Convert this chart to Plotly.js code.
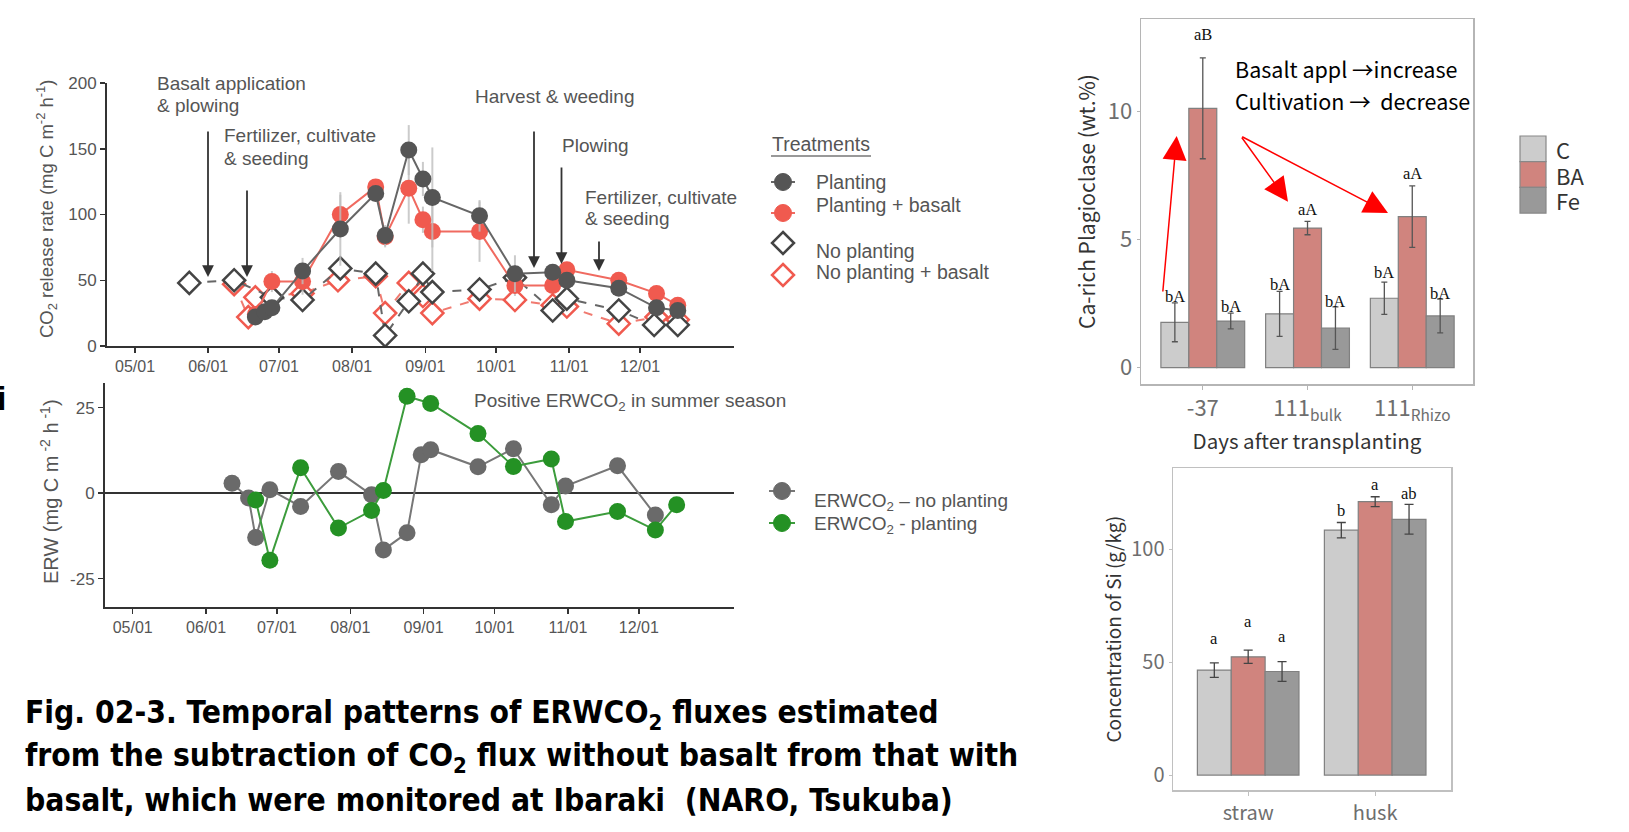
<!DOCTYPE html>
<html><head><meta charset="utf-8">
<script src="https://cdn.plot.ly/plotly-3.0.1.min.js"></script>
<style>html,body{margin:0;padding:0;background:#fff;overflow:hidden}#chart{width:1629px;height:832px;}</style>
</head><body><div id="chart"></div>
<script>
// ---------------- data ----------------
const monthTicks = ['2021-05-01','2021-06-01','2021-07-01','2021-08-01','2021-09-01','2021-10-01','2021-11-01','2021-12-01'];
const monthLabels = ['05/01','06/01','07/01','08/01','09/01','10/01','11/01','12/01'];

const plantDates = ['2021-06-21','2021-06-25','2021-06-28','2021-07-11','2021-07-27','2021-08-11','2021-08-15','2021-08-25','2021-08-31','2021-09-04','2021-09-24','2021-10-09','2021-10-25','2021-10-31','2021-11-22','2021-12-08','2021-12-17'];
const plantVals = [22,26,29,57,89,116,84,149,127,113,99,55,56,50,44,29,27];
const plantErr  = [3,3,5,10,28,5,8,19,13,38,12,14,5,5,5,5,5];

const basaltDates = ['2021-06-21','2021-06-28','2021-07-11','2021-07-27','2021-08-11','2021-08-15','2021-08-25','2021-08-31','2021-09-04','2021-09-24','2021-10-09','2021-10-25','2021-10-31','2021-11-22','2021-12-08','2021-12-17'];
const basaltVals = [24,49,49,100,121,83,120,96,87,87,46,46,58,50,40,31];
const basaltErr  = [3,8,10,15,6,8,27,10,30,23,8,5,5,5,5,5];

const noPlantDates = ['2021-05-24','2021-06-12','2021-06-28','2021-07-11','2021-07-27','2021-08-11','2021-08-15','2021-08-25','2021-08-31','2021-09-04','2021-09-24','2021-10-09','2021-10-25','2021-10-31','2021-11-22','2021-12-07','2021-12-17'];
const noPlantVals = [48,50,37,35,59,55,8,34,55,41,43,52,27,36,27,16,16];

const noPlantBasaltDates = ['2021-06-12','2021-06-18','2021-06-21','2021-07-11','2021-07-26','2021-08-11','2021-08-15','2021-08-25','2021-08-31','2021-09-04','2021-09-24','2021-10-09','2021-10-25','2021-10-31','2021-11-22','2021-12-08','2021-12-17'];
const noPlantBasaltVals = [47,22,37,40,50,53,25,48,38,25,36,35,31,30,17,22,20];

const erwNoPlantDates = ['2021-06-12','2021-06-19','2021-06-22','2021-06-28','2021-07-11','2021-07-27','2021-08-10','2021-08-15','2021-08-25','2021-08-31','2021-09-04','2021-09-24','2021-10-09','2021-10-25','2021-10-31','2021-11-22','2021-12-08'];
const erwNoPlantVals = [2.9,-1.4,-13,1,-3.9,6.3,-0.5,-16.6,-11.6,11.2,12.7,7.7,13,-3.4,2.1,8,-6.4];
const erwPlantDates = ['2021-06-22','2021-06-28','2021-07-11','2021-07-27','2021-08-10','2021-08-15','2021-08-25','2021-09-04','2021-09-24','2021-10-09','2021-10-25','2021-10-31','2021-11-22','2021-12-08','2021-12-17'];
const erwPlantVals = [-2,-19.6,7.4,-10.2,-5.1,0.8,28.3,26.2,17.4,7.8,10,-8.3,-5.4,-10.8,-3.4];

const dayCats = ['-37','111bulk','111Rhizo'];
const dayLabels = ['-37','111<sub>bulk</sub>','111<sub>Rhizo</sub>'];
const plagC = [1.77,2.10,2.71];   const plagCErr = [0.76,0.88,0.63];
const plagBA = [10.13,5.45,5.90]; const plagBAErr = [1.97,0.26,1.20];
const plagFe = [1.82,1.54,2.02];  const plagFeErr = [0.31,0.83,0.66];
const plagCLet = ['bA','bA','bA']; const plagBALet = ['aB','aA','aA']; const plagFeLet = ['bA','bA','bA'];
const plagCLetY = [2.76,3.23,3.70]; const plagBALetY = [13.0,6.16,7.6]; const plagFeLetY = [2.37,2.57,2.91];

const siCats = ['straw','husk'];
const siC = [46.5,108.5];  const siCErr = [3.25,3.4];
const siBA = [52.4,121.1]; const siBAErr = [2.95,2.2];
const siFe = [45.9,113.3]; const siFeErr = [4.4,6.6];
const siCLet = ['a','b']; const siBALet = ['a','a']; const siFeLet = ['a','ab'];
const siCLetY = [60.6,117]; const siBALetY = [67.9,128.8]; const siFeLetY = [61.3,124.8];

const treatNames = ['C','BA','Fe'];
// ---------------- styles ----------------
const W = 1629, H = 832;
const px = x => x / W, py = y => 1 - y / H;
const sansL = 'Liberation Sans, Arial, sans-serif';
const sansR = 'Noto Sans CJK JP, Noto Sans, sans-serif';
const gTxt = '#555';
const colGray = '#555555', colRed = '#f05a4f', colGreen = '#249124';
const barCols = ['#cccccc','#d0847e','#999999'];

const traces = [];
// top-left
traces.push({x: noPlantBasaltDates, y: noPlantBasaltVals, xaxis:'x', yaxis:'y', mode:'lines+markers', type:'scatter',
  line:{color:'#f07a70', width:2, dash:'dash'}, marker:{symbol:'diamond', size:17, color:'#fff', line:{color:colRed, width:2.5}}});
traces.push({x: noPlantDates, y: noPlantVals, xaxis:'x', yaxis:'y', mode:'lines+markers', type:'scatter',
  line:{color:'#666', width:2, dash:'dash'}, marker:{symbol:'diamond', size:17, color:'#fff', line:{color:'#444', width:2.5}}});
traces.push({x: basaltDates, y: basaltVals, xaxis:'x', yaxis:'y', mode:'lines+markers', type:'scatter',
  error_y:{type:'data', array: basaltErr, color:'rgba(190,190,190,0.8)', thickness:2, width:0},
  line:{color:'#f06a60', width:2}, marker:{symbol:'circle', size:17, color:colRed}});
traces.push({x: plantDates, y: plantVals, xaxis:'x', yaxis:'y', mode:'lines+markers', type:'scatter',
  error_y:{type:'data', array: plantErr, color:'rgba(190,190,190,0.8)', thickness:2, width:0},
  line:{color:'#666', width:2}, marker:{symbol:'circle', size:17, color:colGray}});
// bottom-left
traces.push({x: erwNoPlantDates, y: erwNoPlantVals, xaxis:'x2', yaxis:'y2', mode:'lines+markers', type:'scatter',
  line:{color:'#777', width:2}, marker:{size:17, color:'#6a6a6a'}});
traces.push({x: erwPlantDates, y: erwPlantVals, xaxis:'x2', yaxis:'y2', mode:'lines+markers', type:'scatter',
  line:{color:'#3c9c3c', width:2}, marker:{size:17, color:colGreen}});
// bars
const plagVals = [plagC, plagBA, plagFe], plagErrs = [plagCErr, plagBAErr, plagFeErr];
const siVals = [siC, siBA, siFe], siErrs = [siCErr, siBAErr, siFeErr];
for (let i = 0; i < 3; i++) {
  traces.push({type:'bar', x: dayCats, y: plagVals[i], name: treatNames[i], xaxis:'x3', yaxis:'y3',
    marker:{color: barCols[i], line:{color:'#808080', width:1.2}},
    error_y:{type:'data', array: plagErrs[i], color:'#555', thickness:1.3, width:3}});
}
for (let i = 0; i < 3; i++) {
  traces.push({type:'bar', x: siCats, y: siVals[i], name: treatNames[i], xaxis:'x4', yaxis:'y4',
    marker:{color: barCols[i], line:{color:'#808080', width:1.2}},
    error_y:{type:'data', array: siErrs[i], color:'#444', thickness:1.3, width:4.5}});
}

// ---------------- axes ----------------
const x3dom = [px(1141), px(1473)], x3rng = [-0.59, 2.58];
const x4dom = [px(1173), px(1451)], x4rng = [-0.592, 1.597];
const leftAxisCommon = {showline:true, linecolor:'#333', linewidth:2, ticks:'outside', ticklen:5, tickcolor:'#333', tickwidth:1.5,
  showgrid:false, zeroline:false, tickfont:{family:sansL, size:16, color:gTxt}};
const layout = {
  width: W, height: H, margin:{l:0,r:0,t:0,b:0}, paper_bgcolor:'#fff', plot_bgcolor:'rgba(0,0,0,0)',
  showlegend:false, barmode:'group', bargap:0.2, bargroupgap:0,
  xaxis: Object.assign({}, leftAxisCommon, {domain:[px(107), px(734)], anchor:'y', type:'date',
    range:['2021-04-19 03:00','2022-01-09 20:00'], tickvals: monthTicks, ticktext: monthLabels}),
  yaxis: Object.assign({}, leftAxisCommon, {domain:[py(346), py(83)], anchor:'x', range:[0,200], tickvals:[0,50,100,150,200],
    tickfont:{family:sansL, size:17, color:gTxt}}),
  xaxis2: Object.assign({}, leftAxisCommon, {domain:[px(105), px(734)], anchor:'y2', type:'date',
    range:['2021-04-19 07:00','2022-01-10 06:00'], tickvals: monthTicks, ticktext: monthLabels}),
  yaxis2: Object.assign({}, leftAxisCommon, {domain:[py(606.7), py(383)], anchor:'x2', range:[-33.2,32.2], tickvals:[-25,0,25],
    ticktext:['-25','0','25'],
    zeroline:true, zerolinecolor:'#333', zerolinewidth:2, tickfont:{family:sansL, size:17, color:gTxt}}),
  xaxis3: {domain:x3dom, anchor:'y3', type:'category', range:x3rng, tickvals: dayCats, ticktext: dayLabels,
    showline:true, mirror:true, linecolor:'#b5b5b5', linewidth:1.5, ticks:'outside', ticklen:4, tickcolor:'#b5b5b5',
    showgrid:false, tickfont:{family:sansR, size:22, color:'#6e6e6e'},
    title:{text:'Days after transplanting', font:{family:sansR, size:20.5, color:'#333'}, standoff:2}},
  yaxis3: {domain:[py(384), py(19)], anchor:'x3', range:[-0.64,13.62], tickvals:[0,5,10],
    showline:true, mirror:true, linecolor:'#b5b5b5', linewidth:1.5, ticks:'outside', ticklen:3, tickcolor:'#b5b5b5',
    showgrid:false, zeroline:false, tickfont:{family:sansR, size:22, color:'#6e6e6e'},
    title:{text:'Ca-rich Plagioclase (wt.%)', font:{family:sansR, size:21, color:'#333'}, standoff:6}},
  xaxis4: {domain:x4dom, anchor:'y4', type:'category', range:x4rng,
    showline:true, mirror:true, linecolor:'#c0c0c0', linewidth:1.5, ticks:'outside', ticklen:4, tickcolor:'#c0c0c0',
    showgrid:false, tickfont:{family:sansR, size:20, color:'#6e6e6e'}},
  yaxis4: {domain:[py(790), py(468.3)], anchor:'x4', range:[-6.6,135.9], tickvals:[0,50,100],
    showline:true, mirror:true, linecolor:'#c0c0c0', linewidth:1.5, ticks:'outside', ticklen:3, tickcolor:'#c0c0c0',
    showgrid:false, zeroline:false, tickfont:{family:sansR, size:20, color:'#6e6e6e'},
    title:{text:'Concentration of Si (g/kg)', font:{family:sansR, size:19, color:'#333'}, standoff:4}},
  annotations: [], shapes: []
};
const A = layout.annotations, S = layout.shapes;
function txt(t, x, y, opt) {
  A.push(Object.assign({text:t, x:px(x), y:py(y), xref:'paper', yref:'paper', showarrow:false, xanchor:'left', yanchor:'middle',
    borderpad:0, font:{family:sansL, size:19, color:gTxt}}, opt || {}));
}
function arrow(x, yTip, yTail, col, w) {
  A.push({text:'', x:px(x), y:py(yTip), xref:'paper', yref:'paper', showarrow:true, ax:0, ay:(yTail - yTip),
    arrowhead:2, arrowsize:1.3, arrowwidth:w || 1.8, arrowcolor:col || '#333', standoff:0});
}
// top-left annotations
txt('Basalt application', 156, 83); txt('&amp; plowing', 156, 105);
txt('Fertilizer, cultivate', 223, 136); txt('&amp; seeding', 223, 158);
txt('Harvest &amp; weeding', 474, 96);
txt('Plowing', 561, 145);
txt('Fertilizer, cultivate', 584, 197); txt('&amp; seeding', 584, 218);
arrow(208, 277, 130); arrow(247, 277, 189); arrow(534, 268, 130); arrow(561.5, 264, 166); arrow(599, 271, 240);
// legend top-left
txt('Treatments', 771, 144, {font:{family:sansL, size:19.5, color:gTxt}});
S.push({type:'line', xref:'paper', yref:'paper', x0:px(771), x1:px(871), y0:py(156), y1:py(156), line:{color:'#777', width:1.5}});
txt('Planting', 815, 182, {font:{family:sansL, size:19.5, color:gTxt}});
txt('Planting + basalt', 815, 205, {font:{family:sansL, size:19.5, color:gTxt}});
txt('No planting', 815, 251, {font:{family:sansL, size:19.5, color:gTxt}});
txt('No planting + basalt', 815, 272, {font:{family:sansL, size:19.5, color:gTxt}});
function circ(cx, cy, r, fill, lineCol) {
  S.push({type:'circle', xref:'paper', yref:'paper', x0:px(cx - r), x1:px(cx + r), y0:py(cy + r), y1:py(cy - r),
    fillcolor:fill, line:{color:lineCol || fill, width:1}});
}
function hline(x0, x1, y, col, w, dash) {
  S.push({type:'line', xref:'paper', yref:'paper', x0:px(x0), x1:px(x1), y0:py(y), y1:py(y), line:{color:col, width:w || 2, dash: dash || 'solid'}});
}
function diamond(cx, cy, r, col) {
  const p = [[cx, cy - r], [cx + r, cy], [cx, cy + r], [cx - r, cy]].map(q => px(q[0]) + ',' + py(q[1]));
  S.push({type:'path', xref:'paper', yref:'paper', path:'M' + p.join('L') + 'Z', fillcolor:'#fff', line:{color:col, width:2.5}});
}
hline(771, 795, 182, '#666'); circ(783, 182, 8.5, colGray);
hline(771, 795, 213, '#f06a60'); circ(783, 213, 8.5, colRed);
diamond(783, 243, 11, '#444');
diamond(783, 275, 11, colRed);
// bottom-left
txt('Positive ERWCO<sub>2</sub> in summer season', 473, 402);
hline(769, 795, 491, '#777'); circ(782, 491, 8.5, '#6a6a6a');
hline(769, 795, 523, '#3c9c3c'); circ(782, 523, 8.5, colGreen);
txt('ERWCO<sub>2</sub> \u2013 no planting', 813, 502, {font:{family:sansL, size:19, color:gTxt}});
txt('ERWCO<sub>2</sub> - planting', 813, 525, {font:{family:sansL, size:19, color:gTxt}});
// y titles left
txt('CO<sub>2</sub> release rate (mg C m<sup>-2</sup> h<sup>-1</sup>)', 46, 209, {textangle:-90, xanchor:'center', font:{family:sansL, size:18.5, color:gTxt}});
txt('ERW (mg C m<sup> -2</sup> h<sup> -1</sup>)', 49, 492, {textangle:-90, xanchor:'center', font:{family:sansL, size:20, color:gTxt}});
txt('<b>i</b>', -4, 398, {font:{family:sansL, size:34, color:'#000'}});
// letters on bars (x given as category index)
function letters(cats, labs, ys, idx, xa, ya, dom, rng) {
  const pxPerCat = (dom[1] - dom[0]) * W / (rng[1] - rng[0]);
  const shift = (idx - 1) * (1 - layout.bargap) / 3 * pxPerCat;
  cats.forEach((c, i) => A.push({text: labs[i], x: i, y: ys[i], xref: xa, yref: ya, showarrow:false, xshift: shift,
    yanchor:'middle', borderpad:0, font:{family:'Liberation Serif, Times New Roman, serif', size:16.5, color:'#111'}}));
}
letters(dayCats, plagCLet, plagCLetY, 0, 'x3', 'y3', x3dom, x3rng);
letters(dayCats, plagBALet, plagBALetY, 1, 'x3', 'y3', x3dom, x3rng);
letters(dayCats, plagFeLet, plagFeLetY, 2, 'x3', 'y3', x3dom, x3rng);
letters(siCats, siCLet, siCLetY, 0, 'x4', 'y4', x4dom, x4rng);
letters(siCats, siBALet, siBALetY, 1, 'x4', 'y4', x4dom, x4rng);
letters(siCats, siFeLet, siFeLetY, 2, 'x4', 'y4', x4dom, x4rng);
// top-right notes & red arrows
txt('Basalt appl \u2192increase', 1234, 68, {font:{family:sansR, size:21.5, color:'#000'}});
txt('Cultivation \u2192  decrease', 1234, 100, {font:{family:sansR, size:21.5, color:'#000'}});
function redArrow(tailX, tailY, tipX, tipY) {
  A.push({text:'', x:px(tipX), y:py(tipY), xref:'paper', yref:'paper', showarrow:true, ax: tailX - tipX, ay: tailY - tipY,
    arrowhead:2, arrowsize:3.2, arrowwidth:1.5, arrowcolor:'#ff0000', standoff:0});
}
redArrow(1162.7, 293, 1176.7, 136);
redArrow(1240.7, 136, 1288, 201.7);
redArrow(1240.7, 136, 1388, 213);
// legend top-right
const legY = [136, 161.7, 187.4];
for (let i = 0; i < 3; i++) {
  S.push({type:'rect', xref:'paper', yref:'paper', x0:px(1520), x1:px(1546), y0:py(legY[i] + 25.7), y1:py(legY[i]),
    fillcolor: barCols[i], line:{color:'#888', width:1.2}});
  txt(treatNames[i], 1555, legY[i] + 13, {height:24, valign:'middle', font:{family:sansR, size:22, color:'#333'}});
}
// caption
const capFont = {family:'Liberation Sans Narrow, Arial Narrow, DejaVu Sans Condensed, sans-serif', size:31.5, color:'#000'};
txt('<b>Fig. 02-3. Temporal patterns of ERWCO<sub>2</sub> fluxes estimated</b>', 24, 714, {font:capFont});
txt('<b>from the subtraction of CO<sub>2</sub> flux without basalt from that with</b>', 24, 757, {font:capFont});
txt('<b>basalt, which were monitored at Ibaraki  (NARO, Tsukuba)</b>', 24, 800, {font:capFont});

Plotly.newPlot('chart', traces, layout, {staticPlot:true, displayModeBar:false});
</script></body></html>
